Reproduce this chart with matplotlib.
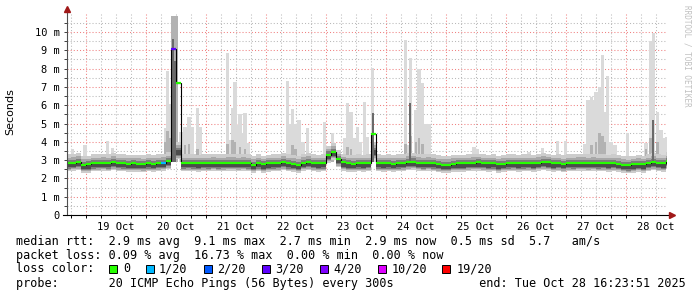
import numpy as np
import pandas as pd
import matplotlib
matplotlib.use("Agg")
import matplotlib.pyplot as plt
import matplotlib.dates as mdates
from matplotlib.patches import Rectangle

# ---- data (10 days, 2h median bins) ----
bin_start = "2025-10-18 16:00"
median_ms = [2.83, 2.85, 2.90, 2.75, 2.76, 2.83, 2.84, 2.85, 2.83, 2.90,
             2.84, 2.83, 2.80, 2.82, 2.80, 2.78, 2.83, 2.80, 2.84, 2.86,
             2.95, 9.07, 7.20, 2.83, 2.84, 2.83, 2.82, 2.84, 2.83, 2.85,
             2.83, 2.84, 2.85, 2.86, 2.84, 2.85, 2.83, 2.74, 2.83, 2.76,
             2.82, 2.83, 2.84, 2.90, 2.83, 2.80, 2.74, 2.85, 2.90, 2.84,
             2.82, 2.83, 3.30, 3.45, 3.05, 2.88, 2.82, 2.80, 2.83, 2.82,
             2.84, 4.43, 2.83, 2.82, 2.83, 2.80, 2.83, 2.84, 2.90, 2.92,
             2.85, 2.83, 2.86, 2.83, 2.78, 2.74, 2.75, 2.80, 2.82, 2.82,
             2.84, 2.86, 2.88, 2.84, 2.82, 2.83, 2.76, 2.80, 2.83, 2.84,
             2.82, 2.83, 2.84, 2.82, 2.86, 2.90, 2.87, 2.82, 2.84, 2.78,
             2.84, 2.83, 2.86, 2.85, 2.84, 2.86, 2.83, 2.84, 2.82, 2.84,
             2.80, 2.74, 2.72, 2.76, 2.80, 2.76, 2.84, 2.90, 2.84, 2.82,
             2.95]
loss_bins = [19, 21]      # bins that lost pings
loss_pings = [1, 3]       # pings lost out of 20

# max ping (light smoke) spikes
spike_time = ["10-18 18:40", "10-18 23:36", "10-19 08:40", "10-19 10:40", "10-19 14:40",
              "10-20 07:48", "10-20 08:36", "10-20 09:36", "10-20 14:00", "10-20 15:36",
              "10-20 17:12", "10-20 18:24", "10-20 20:40", "10-20 21:36", "10-21 08:40",
              "10-21 09:36", "10-21 10:40", "10-21 11:36", "10-21 12:36", "10-21 13:36",
              "10-21 14:36", "10-21 15:36", "10-21 16:48", "10-22 08:40", "10-22 09:36",
              "10-22 10:40", "10-22 11:48", "10-22 13:12", "10-22 14:48", "10-22 16:40",
              "10-22 23:20", "10-23 02:40", "10-23 07:36", "10-23 08:40", "10-23 10:00",
              "10-23 11:12", "10-23 12:40", "10-23 13:48", "10-23 15:24", "10-23 16:40",
              "10-23 18:40", "10-23 19:40", "10-24 07:40", "10-24 08:40", "10-24 09:40",
              "10-24 12:00", "10-24 13:12", "10-24 14:40", "10-24 16:00", "10-24 17:20",
              "10-25 11:12", "10-25 12:24", "10-26 09:12", "10-26 14:40", "10-26 20:40",
              "10-26 23:40", "10-27 07:36", "10-27 08:48", "10-27 10:12", "10-27 11:12",
              "10-27 12:00", "10-27 13:20", "10-27 14:40", "10-27 15:36", "10-27 16:40",
              "10-27 18:00", "10-27 19:36", "10-28 00:40", "10-28 08:00", "10-28 09:40",
              "10-28 10:52", "10-28 12:40", "10-28 14:00", "10-28 15:20", "10-28 16:10"]
spike_max = [3.60, 3.83, 4.04, 3.66, 3.33,
             4.75, 7.87, 6.07, 4.55, 4.83,
             5.37, 4.80, 5.85, 4.80, 8.87,
             4.10, 5.87, 7.28, 4.90, 5.52,
             4.40, 5.57, 3.96, 7.30, 4.97,
             5.80, 4.97, 5.20, 4.00, 4.77,
             5.10, 4.48, 4.20, 6.12, 5.65,
             4.20, 4.83, 4.00, 6.20, 4.28,
             8.03, 3.90, 9.58, 3.80, 8.60,
             5.74, 7.96, 7.23, 5.00, 5.00,
             3.73, 3.60, 3.46, 3.66, 4.06,
             4.06, 3.90, 6.28, 6.43, 6.30,
             6.74, 7.00, 8.74, 5.65, 7.60,
             4.00, 3.80, 4.50, 3.93, 9.50,
             9.96, 5.65, 4.64, 4.19, 4.28]

# medium smoke
mid_time = ["10-20 07:48", "10-20 08:36", "10-20 09:36", "10-20 10:40", "10-20 11:40",
            "10-20 12:20", "10-20 14:00", "10-20 15:36", "10-20 17:12", "10-20 20:40",
            "10-21 08:40", "10-21 10:40", "10-21 11:36", "10-21 13:36", "10-21 15:36",
            "10-22 10:40", "10-22 11:48", "10-23 02:40", "10-23 08:40", "10-23 10:00",
            "10-24 07:40", "10-24 09:40", "10-24 12:00", "10-24 13:12", "10-24 14:40",
            "10-27 10:12", "10-27 12:00", "10-27 13:20", "10-27 14:40", "10-27 15:36",
            "10-28 08:00", "10-28 09:40", "10-28 12:40"]
mid_max = [4.0, 4.6, 4.2, 10.9, 10.9,
           10.9, 3.7, 3.8, 3.9, 3.6,
           3.9, 4.1, 4.0, 3.7, 3.6,
           3.8, 3.6, 3.8, 3.7, 3.6,
           3.9, 4.3, 4.0, 4.2, 3.9,
           3.8, 4.0, 4.5, 4.3, 4.0,
           3.6, 4.2, 4.0]

# dark smoke columns
dark_time = ["10-20 10:40", "10-20 11:40", "10-23 18:40", "10-24 09:40", "10-28 10:52"]
dark_max = [9.6, 8.4, 5.57, 6.1, 5.2]

# typical ping spread around the median (offset below, offset above)
spread_lo = [-0.45, -0.36, -0.29, -0.23]
spread_hi = [0.48, 0.30, 0.17, 0.04]
smoke_colors = ["#cccccc", "#a8a8a8", "#7c7c7c", "#4c4c4c"]

loss_colors = {0: "#26ff00", 1: "#00b8ff", 2: "#0059ff", 3: "#5e00ff",
               4: "#7e00ff", 10: "#dd00ff", 19: "#ff0000"}
legend_keys = [0, 1, 2, 3, 4, 10, 19]

y_ticks = [0, 1, 2, 3, 4, 5, 6, 7, 8, 9, 10]
y_labels = ["0", "1 m", "2 m", "3 m", "4 m", "5 m", "6 m", "7 m", "8 m", "9 m", "10 m"]
day_labels = ["19 Oct", "20 Oct", "21 Oct", "22 Oct", "23 Oct",
              "24 Oct", "25 Oct", "26 Oct", "27 Oct", "28 Oct"]

line1 = "median rtt:  2.9 ms avg  9.1 ms max  2.7 ms min  2.9 ms now  0.5 ms sd  5.7   am/s"
line2 = "packet loss: 0.09 % avg  16.73 % max  0.00 % min  0.00 % now"
line4 = "probe:       20 ICMP Echo Pings (56 Bytes) every 300s            end: Tue Oct 28 16:23:51 2025"

MONO = "DejaVu Sans Mono"
W, H = 697, 297


def fx(px):
    return px / W


def fy(py):
    return 1 - py / H


def tnum(s):
    return mdates.date2num(pd.to_datetime("2025-" + s))


fig = plt.figure(figsize=(W / 100, H / 100), dpi=100)
ax = fig.add_axes([fx(67), fy(215), 600 / W, 201.3 / H])

edges = mdates.date2num(pd.date_range(bin_start, periods=len(median_ms) + 1, freq="2h"))
med = np.array(median_ms)
center = np.minimum(med, 3.5)

hour = 1 / 24.0
# light smoke spikes
ax.bar([tnum(t) for t in spike_time], np.array(spike_max) - 2.9, bottom=2.9,
       width=1.25 * hour, color="#dadada", linewidth=0, zorder=1)
ax.bar([tnum(t) for t in mid_time], np.array(mid_max) - 2.9, bottom=2.9,
       width=1.1 * hour, color="#b2b2b2", linewidth=0, zorder=2)

# base smoke band
for lo, hi, c in zip(spread_lo, spread_hi, smoke_colors):
    ax.stairs(center + hi, edges, baseline=center + lo, fill=True, color=c,
              linewidth=0, zorder=3)

ax.bar([tnum(t) for t in dark_time], np.array(dark_max) - 2.9, bottom=2.9,
       width=0.8 * hour, color="#6a6a6a", linewidth=0, zorder=4)

# median line: black steps, coloured by loss
ax.stairs(med, edges, baseline=None, color="black", linewidth=0.8, zorder=5)
loss = [0] * len(median_ms)
for b, n in zip(loss_bins, loss_pings):
    loss[b] = n
ax.hlines(med, edges[:-1], edges[1:], colors=[loss_colors[n] for n in loss],
          linewidth=1.6, zorder=6)

t0 = pd.Timestamp("2025-10-18 16:23:51")
t1 = pd.Timestamp("2025-10-28 16:23:51")
ax.set_xlim(mdates.date2num(t0), mdates.date2num(t1))
ax.set_ylim(0, 11)

# grid
for t in pd.date_range("2025-10-18 18:00", "2025-10-28 12:00", freq="6h"):
    major = t.hour == 0
    ax.axvline(mdates.date2num(t), color="#f08080" if major else "#b8b8b8",
               linestyle=(0, (1, 2)), linewidth=0.75, zorder=0.5)
for v in np.arange(0.5, 11, 0.5):
    major = float(v).is_integer()
    ax.axhline(v, color="#f08080" if major else "#b8b8b8",
               linestyle=(0, (1, 2)), linewidth=0.75, zorder=0.5)

for s in ax.spines.values():
    s.set_visible(False)

ax.set_yticks(y_ticks)
ax.set_yticklabels(y_labels, fontfamily=MONO, fontsize=7.5)
ax.set_yticks(np.arange(0.5, 11, 0.5), minor=True)
ax.tick_params(axis="y", which="both", length=2.5, width=0.7, pad=2.5, color="#404040")

noons = pd.date_range("2025-10-19 12:00", periods=10, freq="D")
ax.set_xticks(mdates.date2num(noons))
ax.set_xticklabels(day_labels, fontfamily=MONO, fontsize=7.5)
ax.set_xticks(mdates.date2num(pd.date_range("2025-10-18 18:00", "2025-10-28 12:00", freq="6h")),
              minor=True)
ax.tick_params(axis="x", which="major", length=0, pad=5)
ax.tick_params(axis="x", which="minor", length=2, width=0.7, color="black")

# axis lines with arrows
ax.plot([0, 0], [0, 1.01], transform=ax.transAxes, color="#505050", lw=0.8,
        clip_on=False, zorder=7)
ax.plot([-0.006, 1.005], [0, 0], transform=ax.transAxes, color="black", lw=0.8,
        clip_on=False, zorder=7)
ax.plot([0], [1.025], marker="^", markersize=4.5, color="#a01818",
        transform=ax.transAxes, clip_on=False, zorder=8)
ax.plot([1.008], [0], marker=">", markersize=4.5, color="#a01818",
        transform=ax.transAxes, clip_on=False, zorder=8)

fig.text(fx(10), fy(112), "Seconds", rotation=90, ha="center", va="center",
         fontsize=8, family="DejaVu Sans")
fig.text(fx(687), fy(5), "RRDTOOL / TOBI OETIKER", rotation=270, ha="center", va="top",
         fontsize=5.5, family=MONO, color="#c0c0c0")

# legend
fig.text(fx(16), fy(241), line1, ha="left", va="center", fontsize=8.5, family=MONO)
fig.text(fx(16), fy(255), line2, ha="left", va="center", fontsize=8.5, family=MONO)
fig.text(fx(16), fy(269), "loss color:", ha="left", va="center", fontsize=8.5, family=MONO)
box_x = [108.5, 146, 203.5, 262, 319.5, 378, 442]
text_x = [123, 159, 217, 275, 333, 392, 457]
for k, bx, tx in zip(legend_keys, box_x, text_x):
    fig.patches.append(Rectangle((fx(bx), fy(273)), 8 / W, 8 / H, transform=fig.transFigure,
                                 facecolor=loss_colors[k], edgecolor="black", linewidth=0.7))
    fig.text(fx(tx), fy(269), "0" if k == 0 else f"{k}/20", ha="left", va="center",
             fontsize=8.5, family=MONO)
fig.text(fx(16), fy(283), line4, ha="left", va="center", fontsize=8.5, family=MONO)

fig.savefig("out.png", dpi=100)
